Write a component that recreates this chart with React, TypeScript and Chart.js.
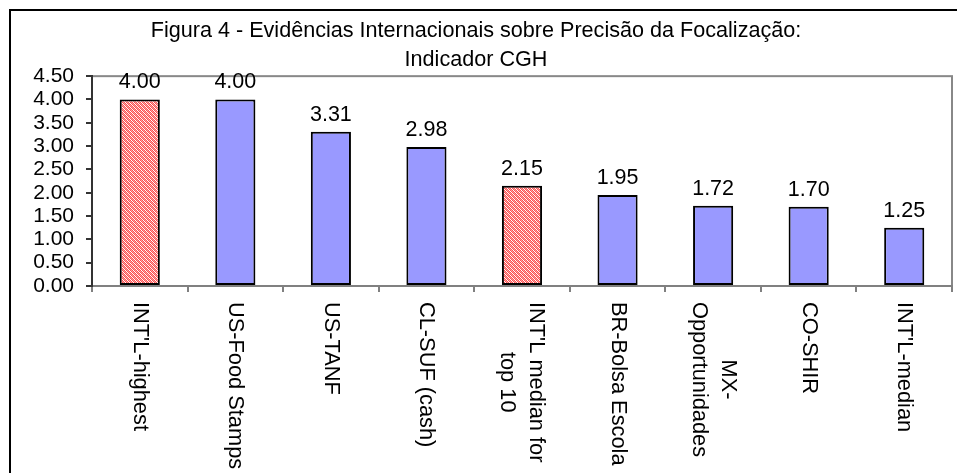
import React, { useEffect, useRef } from 'react';
import { Chart, registerables } from 'chart.js';

Chart.register(...registerables);

const titleLines = [
  'Figura 4 - Evidências Internacionais sobre Precisão da Focalização:',
  'Indicador CGH',
];
const categories: (string | string[])[] = [
  "INT'L-highest",
  'US-Food Stamps',
  'US-TANF',
  'CL-SUF (cash)',
  ["INT'L median for", 'top 10'],
  'BR-Bolsa Escola',
  ['MX-', 'Opportunidades'],
  'CO-SHIR',
  "INT'L-median",
];
const values = [4.0, 4.0, 3.31, 2.98, 2.15, 1.95, 1.72, 1.7, 1.25];
const highlighted = [true, false, false, false, true, false, false, false, false];
const yMin = 0;
const yMax = 4.5;
const yStep = 0.5;

const FONT = "'Liberation Sans', Arial, sans-serif";

function makeHatch(ctx: CanvasRenderingContext2D): CanvasPattern | string {
  const c = document.createElement('canvas');
  c.width = 4;
  c.height = 4;
  const g = c.getContext('2d');
  if (!g) return '#f08080';
  g.fillStyle = '#ffffff';
  g.fillRect(0, 0, 4, 4);
  g.fillStyle = '#ff5050';
  for (let y = 0; y < 4; y++) {
    for (let x = 0; x < 4; x++) {
      if ((x + y) % 2 === 0) g.fillRect(x, y, 1, 1);
    }
  }
  g.fillStyle = '#f8a0a0';
  for (let y = 0; y < 4; y++) {
    g.fillRect((y + 1) % 4, y, 1, 1);
  }
  return ctx.createPattern(c, 'repeat') || '#f08080';
}

const framePlugin = {
  id: 'frame',
  beforeDraw(chart: any) {
    const { ctx, chartArea } = chart;
    ctx.save();
    ctx.strokeStyle = '#000';
    ctx.lineWidth = 2;
    ctx.strokeRect(10, 10, 1000, 1000);
    ctx.strokeStyle = '#888';
    ctx.lineWidth = 2;
    ctx.strokeRect(chartArea.left, chartArea.top, chartArea.right - chartArea.left, chartArea.bottom - chartArea.top);
    ctx.restore();
  },
};

const valueLabelPlugin = {
  id: 'valueLabels',
  afterDatasetsDraw(chart: any) {
    const { ctx } = chart;
    const meta = chart.getDatasetMeta(0);
    ctx.save();
    ctx.fillStyle = '#000';
    ctx.font = `21.5px ${FONT}`;
    ctx.textAlign = 'center';
    ctx.textBaseline = 'alphabetic';
    meta.data.forEach((bar: any, i: number) => {
      ctx.fillText(values[i].toFixed(2), bar.x, bar.y - 11);
    });
    ctx.restore();
  },
};

const xLabelPlugin = {
  id: 'xLabels',
  afterDraw(chart: any) {
    const { ctx } = chart;
    const xs = chart.scales.x;
    const lh = 29;
    ctx.save();
    ctx.fillStyle = '#000';
    ctx.font = `21.8px ${FONT}`;
    ctx.textBaseline = 'middle';
    categories.forEach((lab, i) => {
      const lines = Array.isArray(lab) ? lab : [lab];
      const cx = xs.getPixelForTick(i);
      const top = xs.top + 16;
      const maxW = Math.max(...lines.map((l) => ctx.measureText(l).width));
      ctx.save();
      ctx.translate(cx, top);
      ctx.rotate(Math.PI / 2);
      ctx.textAlign = 'center';
      lines.forEach((l, j) => {
        const off = (j - (lines.length - 1) / 2) * lh;
        ctx.fillText(l, maxW / 2, off);
      });
      ctx.restore();
    });
    ctx.restore();
  },
};

export default function App() {
  const ref = useRef<HTMLCanvasElement | null>(null);
  useEffect(() => {
    const canvas = ref.current;
    if (!canvas) return;
    const ctx = canvas.getContext('2d');
    if (!ctx) return;
    const hatch = makeHatch(ctx);
    const chart = new Chart(canvas, {
      type: 'bar',
      data: {
        labels: categories as any,
        datasets: [
          {
            data: values,
            backgroundColor: highlighted.map((h) => (h ? hatch : '#9999ff')) as any,
            borderColor: '#000',
            borderWidth: 2,
            borderSkipped: false,
            categoryPercentage: 1,
            barPercentage: 0.42,
          },
        ],
      },
      options: {
        responsive: false,
        animation: false,
        devicePixelRatio: 1,
        layout: { padding: { left: 0, right: 5, top: 0, bottom: 0 } },
        plugins: {
          legend: { display: false },
          tooltip: { enabled: false },
          title: {
            display: true,
            text: titleLines,
            color: '#000',
            font: { family: FONT, size: 21.6, weight: 'normal', lineHeight: 1.3 },
            padding: { top: 17.5, bottom: 2.5 },
          },
        },
        scales: {
          x: {
            grid: {
              display: true,
              drawOnChartArea: false,
              drawTicks: true,
              tickLength: 6,
              color: '#808080',
              lineWidth: 2,
              offset: true,
            },
            border: { display: true, color: '#808080', width: 2 },
            ticks: { display: false },
            afterFit(scale: any) {
              scale.height = 187;
            },
          },
          y: {
            min: yMin,
            max: yMax,
            grid: {
              display: true,
              drawOnChartArea: false,
              drawTicks: true,
              tickLength: 6,
              color: '#333',
              lineWidth: 2,
            },
            border: { display: true, color: '#333', width: 2 },
            ticks: {
              stepSize: yStep,
              autoSkip: false,
              color: '#000',
              padding: 12,
              font: { family: FONT, size: 21 },
              callback: (v: any) => Number(v).toFixed(2),
            },
            afterFit(scale: any) {
              scale.width = 92;
            },
          },
        },
      },
      plugins: [framePlugin, valueLabelPlugin, xLabelPlugin],
    });
    return () => chart.destroy();
  }, []);
  return (
    <div style={{ position: 'absolute', left: 0, top: 0, width: 957, height: 473, background: '#fff' }}>
      <canvas ref={ref} width={957} height={473} style={{ display: 'block' }} />
    </div>
  );
}
